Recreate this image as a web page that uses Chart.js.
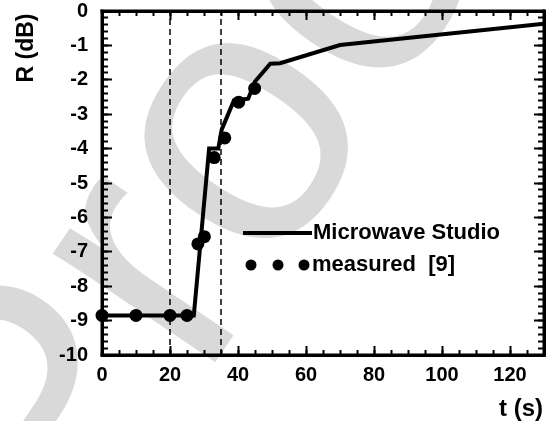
<!DOCTYPE html>
<html>
<head>
<meta charset="utf-8">
<script src="https://cdn.jsdelivr.net/npm/chart.js@4/dist/chart.umd.min.js"></script>
<style>
html,body{margin:0;padding:0;background:#fff;}
canvas{display:block;}
</style>
</head>
<body>
<canvas id="c" width="558" height="421"></canvas>
<script>
// ---- data ----
const simT = [0, 27, 31.5, 34.2, 35.2, 38.8, 43.0, 45.0, 49.5, 52.4, 70, 130];
const simR = [-8.85, -8.85, -4.0, -4.0, -3.45, -2.6, -2.55, -2.05, -1.53, -1.52, -0.99, -0.37];

const measT = [0, 10, 20, 25, 28.2, 30.1, 33.0, 36.1, 40.2, 44.9];
const measR = [-8.85, -8.85, -8.85, -8.85, -6.77, -6.56, -4.26, -3.69, -2.65, -2.25];

const markerT = [20, 35];
const markerR = [-10, 0];

const xTicks = [0, 20, 40, 60, 80, 100, 120];
const yTicks = [0, -1, -2, -3, -4, -5, -6, -7, -8, -9, -10];

const seriesNames = ['Microwave Studio', 'measured  [9]'];
const xTitle = 't (s)';
const yTitle = 'R (dB)';
const watermark = 'Proof';

// ---- build datasets ----
const FONT = '"Liberation Sans", Arial, sans-serif';
const simData = simT.map((t, i) => ({x: t, y: simR[i]}));
const measData = measT.map((t, i) => ({x: t, y: measR[i]}));
const markerSets = markerT.map(t => ({
  label: 'marker',
  data: markerR.map(r => ({x: t, y: r})),
  xAxisID: 'x', yAxisID: 'y',
  showLine: true,
  borderColor: '#000',
  borderWidth: 1.5,
  borderDash: [6, 4],
  pointRadius: 0,
  order: 3
}));

Chart.defaults.color = '#000';
Chart.defaults.font.family = FONT;

// axis helpers: inner ticks drawn by the library (negative tick length)
function zeroPad(s) { s.paddingLeft = 0; s.paddingRight = 0; s.paddingTop = 0; s.paddingBottom = 0; }
function edgeAxis(axis, position, tickLen, opts) {
  return Object.assign({
    type: 'linear', axis: axis, position: position,
    min: axis === 'x' ? 0 : -10, max: axis === 'x' ? 130 : 0,
    grid: {display: true, drawOnChartArea: false, drawTicks: true, tickLength: -tickLen, tickWidth: 2, tickColor: '#000'},
    border: {display: false},
    ticks: {display: false},
    afterFit(s) { if (axis === 'x') s.height = 0; else s.width = 0; zeroPad(s); }
  }, opts || {});
}

const bg = {
  id: 'bg',
  beforeDraw(chart) {
    const ctx = chart.ctx;
    ctx.save();
    ctx.fillStyle = '#d9d9d9';
    ctx.font = '370px ' + FONT;
    ctx.textBaseline = 'alphabetic';
    ctx.textAlign = 'left';
    ctx.translate(63, 588);
    ctx.rotate(-56 * Math.PI / 180);
    ctx.fillText(watermark, 0, 0);
    ctx.restore();
  }
};

const dbg = {
  id: 'dbg',
  afterDraw(chart) {
    const ctx = chart.ctx;
    const a = chart.chartArea;
    ctx.save();
    ctx.fillStyle = '#000000';
    ctx.fillRect(a.left - 1.5, a.top - 1.5, a.right - a.left + 3, 3);
    ctx.fillRect(a.left - 1.5, a.bottom - 1.5, a.right - a.left + 3, 3);
    ctx.fillRect(a.left - 1.5, a.top - 1.5, 3, a.bottom - a.top + 3);
    ctx.fillRect(a.right - 1.5, a.top - 1.5, 3, a.bottom - a.top + 3);
    // axis titles
    ctx.font = 'bold 24px ' + FONT;
    ctx.textBaseline = 'middle';
    ctx.textAlign = 'right';
    ctx.fillText(xTitle, 543, 409);
    ctx.save();
    ctx.translate(27, 48);
    ctx.rotate(-Math.PI / 2);
    ctx.textAlign = 'center';
    ctx.font = 'bold 23px ' + FONT;
    ctx.fillText(yTitle, 0, 0);
    ctx.restore();
    // legend
    ctx.fillRect(243, 231, 69, 4);
    ctx.font = 'bold 22px ' + FONT;
    ctx.textAlign = 'left';
    ctx.textBaseline = 'middle';
    ctx.fillText(chart.data.datasets[0].label, 313, 233);
    [251, 278, 304].forEach(cx => {
      ctx.beginPath();
      ctx.arc(cx, 265, 5.5, 0, Math.PI * 2);
      ctx.fill();
    });
    ctx.fillText(chart.data.datasets[1].label, 312, 265);
    ctx.restore();
  }
};

new Chart(document.getElementById('c'), {
  type: 'scatter',
  data: {
    datasets: [
      {
        label: seriesNames[0],
        data: simData,
        xAxisID: 'x', yAxisID: 'y',
        showLine: true,
        borderColor: '#000',
        borderWidth: 4,
        pointRadius: 0,
        order: 2
      },
      {
        label: seriesNames[1],
        data: measData,
        xAxisID: 'x', yAxisID: 'y',
        showLine: false,
        pointRadius: 6.5,
        pointBackgroundColor: '#000',
        pointBorderColor: '#000',
        pointBorderWidth: 0,
        clip: false,
        order: 1
      },
      ...markerSets
    ]
  },
  options: {
    responsive: false,
    animation: false,
    layout: {padding: {left: 0, top: 11, right: 14, bottom: 0}},
    plugins: {legend: {display: false}, tooltip: {enabled: false}},
    scales: {
      x: {
        type: 'linear', axis: 'x', position: 'bottom', weight: 0,
        min: 0, max: 130,
        afterFit(s) { s.height = 66; zeroPad(s); },
        afterBuildTicks(s) { s.ticks = xTicks.map(v => ({value: v})); },
        grid: {display: true, drawOnChartArea: false, drawTicks: true, tickLength: -9, tickWidth: 2, tickColor: '#000'},
        border: {display: true, width: 3, color: '#000'},
        ticks: {font: {size: 20, weight: 'bold'}, padding: 17, maxRotation: 0, autoSkip: false}
      },
      y: {
        type: 'linear', axis: 'y', position: 'left', weight: 0,
        min: -10, max: 0,
        afterFit(s) { s.width = 102; zeroPad(s); },
        afterBuildTicks(s) { s.ticks = yTicks.map(v => ({value: v})); },
        grid: {display: true, drawOnChartArea: false, drawTicks: true, tickLength: -10, tickWidth: 2, tickColor: '#000'},
        border: {display: true, width: 3, color: '#000'},
        ticks: {font: {size: 20, weight: 'bold'}, padding: 24, autoSkip: false}
      },
      xMinor: edgeAxis('x', 'bottom', 5, {weight: -1, ticks: {display: false, stepSize: 5}}),
      yMinor: edgeAxis('y', 'left', 6, {weight: -1, ticks: {display: false, stepSize: 0.2}}),
      xTop: edgeAxis('x', 'top', 9, {weight: 0, border: {display: true, width: 3, color: '#000'},
        afterBuildTicks(s) { s.ticks = xTicks.map(v => ({value: v})); }}),
      xTopMinor: edgeAxis('x', 'top', 5, {weight: -1, ticks: {display: false, stepSize: 5}}),
      yRight: edgeAxis('y', 'right', 10, {weight: 0, border: {display: true, width: 3, color: '#000'},
        afterBuildTicks(s) { s.ticks = yTicks.map(v => ({value: v})); }}),
      yRightMinor: edgeAxis('y', 'right', 6, {weight: -1, ticks: {display: false, stepSize: 0.2}})
    }
  },
  plugins: [bg, dbg]
});
</script>
</body>
</html>
